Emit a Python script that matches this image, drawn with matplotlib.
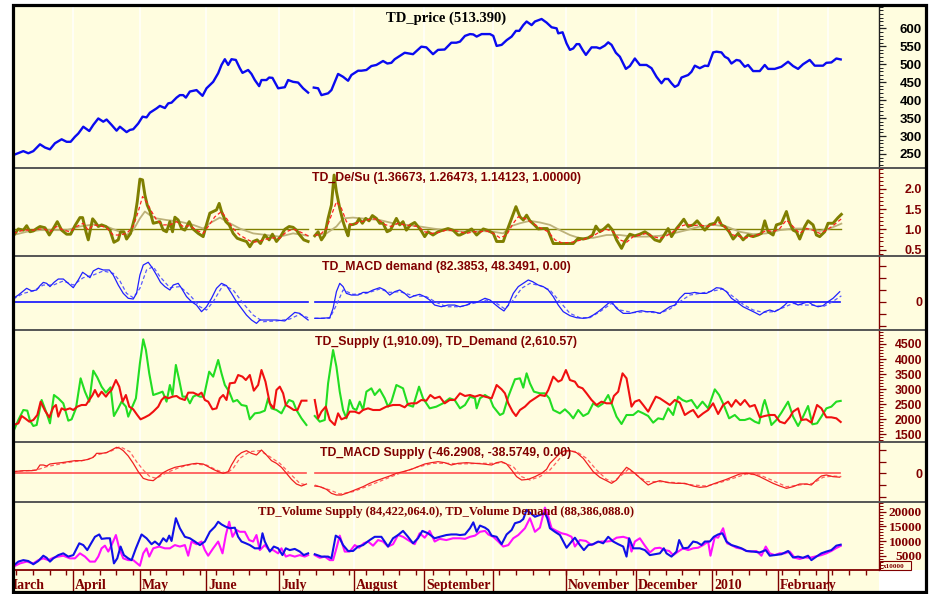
import numpy as np
import matplotlib
matplotlib.use("Agg")
import matplotlib.pyplot as plt
from matplotlib.ticker import MultipleLocator, FixedLocator, FuncFormatter, NullFormatter
from matplotlib.patches import Rectangle
from matplotlib.lines import Line2D
from matplotlib.transforms import offset_copy

nan = float("nan")

# ---------------- data (x = trading-day index, y = value) ----------------
MONTH_STARTS = [-3.0, 18.0, 38.1, 58.0, 79.9, 102.4, 123.4, 144.1, 166.1, 187.1, 209.9, 229.7, 244.7]
MONTH_LABELS = ["March", "April", "May", "June", "July", "August", "September", "",
                "November", "December", "2010", "February", ""]

TITLES = ["TD_price (513.390)",
          "TD_De/Su (1.36673, 1.26473, 1.14123, 1.00000)",
          "TD_MACD demand (82.3853, 48.3491, 0.00)",
          "TD_Supply (1,910.09), TD_Demand (2,610.57)",
          "TD_MACD Supply (-46.2908, -38.5749, 0.00)",
          "TD_Volume Supply (84,422,064.0), TD_Volume Demand (88,386,088.0)"]

PRICE = [(0.1,247),(3.1,258),(4.6,252),(6.1,258),(8.1,277),(9.6,268),(11.1,263),(12.6,280),(14.6,291),(16.1,284),
 (17.3,284),(18.6,298),(19.6,307),(21.1,326),(22.9,314),(24.1,331),(25.6,349),(27.1,340),(28.1,346),(29.6,331),
 (31.1,315),(32.1,326),(34.1,311),(35.1,317),(36.1,319),(37.6,335),(38.9,354),(40.1,352),(41.1,365),(43.1,377),
 (44.1,384),(45.6,378),(46.6,391),(47.6,393),(49.1,407),(50.1,414),(51.1,414),(51.9,407),(53.1,424),(55.1,428),
 (56.9,412),(58.1,433),(60.1,451),(61.6,475),(62.6,498),(63.6,514),(64.6,498),(65.6,514),(66.9,512),(68.1,489),
 (68.9,476),(70.6,484),(71.6,473),(72.6,456),(73.9,439),(74.6,456),(76.1,456),(76.9,463),(77.9,462),(79.6,433),
 (81.6,436),(82.6,456),(84.1,451),(85.6,449),(87.1,433),(88.6,421),(89.5,nan),
 (90.3,435),(91.6,433),(92.6,414),(94.6,419),(95.6,428),(97.6,473),(99.1,465),(100.6,454),(101.6,470),(103.6,482),
 (104.6,482),(106.1,484),(107.6,495),(109.1,498),(111.1,509),(112.4,502),(113.6,504),(114.6,514),(117.6,532),
 (120.1,528),(122.6,549),(124.1,547),(126.1,528),(127.6,540),(129.6,541),(131.6,560),(133.1,560),
 (134.2,563),(135.7,579),(137.2,584),(138.2,583),(139.2,577),(140.7,584),(143.2,584),(144.2,579),(145.2,551),
 (146.7,554),(148.2,567),(149.7,577),(151.0,593),(152.0,593),(153.2,609),(154.2,619),(155.7,609),(156.7,619),
 (158.7,626),(160.2,616),(161.7,603),(163.2,600),(163.7,586),(165.0,589),(166.2,558),(167.2,540),(168.2,544),
 (169.2,556),(170.0,556),(171.0,540),(172.0,526),(173.7,547),(175.2,547),(176.2,544),(177.7,552),(178.7,561),
 (179.7,554),(181.0,532),(182.2,521),(184.0,487),(185.2,495),(186.7,516),(188.2,498),(190.2,498),(191.7,489),
 (193.2,465),(194.7,447),(195.7,459),(196.7,459),(197.7,447),(198.7,437),(199.7,442),(200.7,463),(202.7,470),
 (203.7,479),(204.7,496),(206.2,489),(207.7,496),(208.7,495),(210.2,533),(211.2,535),(212.7,533),(213.7,521),
 (214.7,516),(215.7,502),(217.2,512),(218.2,510),(219.7,493),(220.7,498),(222.2,481),(224.2,481),(225.7,498),
 (226.7,487),(228.7,487),(230.7,493),(232.7,507),(234.2,495),(235.7,487),(237.2,500),(239.2,512),(240.7,496),
 (243.2,496),(244.2,504),(245.7,505),(247.2,516),(248.5,513.39)]

DESU_MAIN = [(0.1,0.84),(1.6,1.01),(3.1,0.98),(4.1,1.09),(5.1,0.94),(6.1,0.96),(7.1,1.02),(8.1,1.07),(9.6,1.04),
 (10.9,0.86),(12.1,1.02),(13.3,1.19),(14.6,0.98),(16.1,0.88),(17.3,0.88),(18.6,1.09),(20.1,1.29),(20.9,1.29),
 (21.9,0.94),(22.6,0.74),(23.9,1.26),(24.6,1.19),(25.6,1.07),(26.6,1.11),(27.9,1.07),(29.1,0.98),(30.3,0.68),
 (31.6,0.74),(32.3,0.94),(33.3,0.94),(34.1,0.76),(35.3,0.90),(36.6,1.31),(37.3,1.68),(38.1,2.24),(38.9,2.22),
 (39.6,1.85),(40.3,1.60),(41.1,1.45),(42.1,1.15),(43.1,1.17),(44.1,1.19),(45.1,0.98),(46.1,0.94),(47.1,1.19),
 (47.9,0.94),(48.6,1.30),(49.6,1.23),(50.6,1.02),(51.6,0.98),(52.9,1.19),(53.9,1.02),(55.6,0.90),(57.1,0.82),
 (58.1,1.12),(59.1,1.40),(60.1,1.44),(61.1,1.48),(61.9,1.64),(62.6,1.44),(63.9,1.19),(64.9,1.11),(66.1,0.90),
 (67.3,0.78),(68.6,0.74),(70.1,0.70),(71.1,0.57),(72.1,0.70),(73.3,0.74),(74.3,0.65),(75.6,0.86),(76.9,0.74),
 (77.9,0.88),(79.1,0.70),(80.3,0.82),(81.6,1.00),(82.9,1.07),(84.1,1.05),(85.1,0.98),(86.1,0.86),(87.3,0.74),
 (88.6,0.70),(89.5,nan),
 (90.6,0.84),(91.6,0.94),(92.6,0.74),(93.6,0.86),(94.6,1.27),(95.6,1.60),(96.4,2.34),(97.1,1.93),(98.1,1.52),
 (99.1,1.19),(100.1,0.94),(100.6,0.84),(101.1,1.11),(102.1,1.12),(103.1,1.15),(103.9,1.26),(104.9,1.15),
 (105.9,1.27),(106.9,1.21),(107.9,1.34),(109.1,1.27),(110.1,1.15),(111.1,1.15),(112.3,0.94),(113.3,0.98),
 (114.1,1.11),(115.1,1.27),(116.1,1.11),(117.1,1.19),(118.1,0.98),(119.3,1.11),(120.6,1.17),(121.6,1.07),
 (122.6,0.96),(123.6,0.82),(124.6,0.94),(126.1,0.86),(127.6,0.94),(129.1,0.98),(130.6,1.02),(132.1,0.98),
 (133.6,0.86),(134.2,0.86),(136.2,0.94),(137.7,1.01),(139.2,0.86),(141.2,1.01),(142.7,0.97),(144.2,0.90),
 (145.2,0.70),(147.2,0.70),(148.2,0.94),(149.7,1.27),(151.0,1.56),(152.2,1.31),(153.2,1.23),(154.2,1.35),
 (155.2,1.21),(156.4,1.12),(157.7,1.01),(159.2,1.02),(160.4,1.02),(162.2,0.65),(164.2,0.65),(166.2,0.65),
 (168.2,0.65),(169.7,0.78),(171.2,0.76),(172.7,0.79),(174.0,0.86),(175.0,1.08),(176.2,0.94),(177.4,1.01),
 (178.7,1.11),(180.0,0.98),(181.2,0.74),(182.7,0.53),(183.7,0.70),(185.2,0.88),(186.7,0.84),(188.2,0.88),
 (189.7,0.94),(191.2,0.86),(192.7,0.74),(194.2,0.70),(195.2,0.82),(196.7,1.02),(197.7,0.82),(199.2,1.02),
 (200.2,1.12),(201.4,1.25),(202.7,1.07),(204.2,1.11),(205.4,1.21),(206.4,1.11),(207.7,0.98),(209.2,1.12),
 (210.7,1.15),(211.7,1.29),(212.7,1.11),(213.7,1.07),(215.0,0.94),(216.2,0.76),(217.7,0.90),(219.2,0.74),
 (220.7,0.86),(222.2,0.82),(223.7,0.86),(224.7,0.90),(225.7,1.21),(226.7,0.94),(228.2,0.86),(229.2,1.11),
 (230.7,1.15),(232.2,1.44),(233.2,1.15),(234.2,0.98),(235.2,0.94),(236.2,0.76),(237.7,1.07),(238.7,1.21),
 (240.2,1.11),(241.2,0.86),(242.2,0.82),(243.7,0.94),(244.7,1.15),(246.2,1.15),(247.7,1.29),(248.7,1.37)]

DESU_FAST = [(0.1,0.90),(3.1,0.98),(6.1,0.98),(9.1,1.02),(11.1,0.94),(13.1,1.07),(15.1,0.98),(17.1,0.94),
 (19.1,1.07),(21.1,1.15),(22.6,0.98),(24.1,1.11),(26.1,1.09),(28.1,1.04),(30.1,0.86),(32.1,0.86),(34.1,0.90),
 (36.1,1.07),(37.6,1.44),(38.9,1.81),(40.1,1.68),(41.6,1.44),(43.1,1.23),(45.1,1.11),(47.1,1.11),(49.1,1.19),
 (51.1,1.07),(53.1,1.09),(55.1,0.98),(57.1,0.90),(58.6,1.07),(60.6,1.31),(62.6,1.44),(64.1,1.27),(66.1,1.02),
 (68.1,0.86),(70.1,0.76),(72.1,0.68),(74.1,0.71),(76.1,0.76),(78.1,0.79),(80.1,0.78),(82.1,0.94),(84.1,1.01),
 (86.1,0.94),(88.6,0.84),(89.5,nan),
 (90.6,0.86),(92.1,0.86),(94.1,1.02),(95.6,1.35),(97.1,1.68),(98.6,1.52),(100.1,1.19),(101.6,1.11),(103.6,1.17),
 (105.6,1.21),(107.6,1.26),(109.6,1.25),(111.6,1.12),(113.6,1.07),(115.6,1.15),(117.6,1.11),(119.6,1.09),
 (121.6,1.07),(123.6,0.94),(125.6,0.90),(127.6,0.92),(130.1,0.98),(132.1,0.98),(136.2,0.90),(138.2,0.94),
 (140.2,0.94),(142.2,0.96),(144.2,0.90),(146.2,0.79),(148.2,0.86),(150.2,1.15),(151.7,1.31),(153.7,1.27),
 (155.7,1.17),(158.2,1.04),(160.7,0.94),(162.7,0.74),(164.7,0.67),(167.2,0.67),(169.2,0.71),(171.7,0.76),
 (174.2,0.84),(176.2,0.94),(178.2,1.00),(180.2,0.94),(182.2,0.74),(184.2,0.68),(186.2,0.82),(188.2,0.86),
 (190.2,0.90),(192.2,0.82),(194.2,0.78),(196.2,0.84),(198.2,0.94),(200.2,1.07),(202.2,1.12),(204.2,1.09),
 (206.2,1.11),(208.2,1.07),(210.2,1.11),(212.2,1.17),(214.2,1.02),(216.2,0.86),(218.2,0.82),(220.2,0.79),
 (222.2,0.84),(224.2,0.88),(226.2,0.98),(228.2,0.94),(230.2,1.02),(232.2,1.23),(234.2,1.07),(236.2,0.90),
 (238.2,1.02),(240.2,0.98),(242.2,0.90),(244.2,0.98),(246.2,1.09),(248.7,1.26)]

DESU_SLOW = [(0.1,0.86),(4.1,0.94),(8.1,0.98),(12.1,0.98),(16.1,0.98),(20.1,1.07),(24.1,1.12),(28.1,1.07),
 (32.1,0.94),(34.1,0.86),(36.1,0.98),(38.1,1.27),(39.6,1.44),(41.1,1.35),(43.1,1.27),(46.1,1.23),(50.1,1.19),
 (54.1,1.11),(57.1,1.02),(59.1,1.15),(62.1,1.29),(65.1,1.15),(68.1,1.02),(72.1,0.90),(76.1,0.86),(80.1,0.82),
 (84.1,0.90),(88.6,0.84),(89.5,nan),
 (90.6,0.86),(94.1,0.90),(97.1,1.07),(99.1,1.27),(102.1,1.29),(106.1,1.26),(110.1,1.23),(114.1,1.15),
 (118.1,1.11),(122.1,1.07),(126.1,1.02),(130.1,0.98),(136.2,0.94),(140.2,0.96),(144.2,0.94),(147.2,0.90),
 (149.2,1.07),(152.2,1.15),(155.2,1.21),(158.2,1.17),(161.2,1.11),(164.2,0.98),(167.2,0.86),(170.2,0.78),
 (174.2,0.79),(178.2,0.86),(182.2,0.86),(186.2,0.82),(190.2,0.82),(194.2,0.84),(198.2,0.90),(202.2,0.98),
 (206.2,1.07),(210.2,1.11),(214.2,1.07),(218.2,0.94),(222.2,0.88),(226.2,0.90),(230.2,0.98),(234.2,1.02),
 (238.2,1.02),(242.2,0.96),(245.2,1.02),(248.7,1.14)]

MACD_D = [(0.1,28),(1.6,55),(3.1,89),(4.1,111),(5.6,89),(7.1,97),(8.1,133),(9.1,160),(10.1,152),(11.1,125),
 (12.3,160),(13.6,188),(15.1,188),(16.6,152),(18.1,116),(19.6,180),(20.9,244),(22.1,221),(23.1,199),(24.1,255),
 (25.6,277),(27.1,263),(28.9,263),(30.1,221),(31.6,138),(33.1,69),(34.6,28),(36.1,22),(37.1,69),(38.1,221),
 (39.1,304),(40.6,327),(41.9,277),(43.1,221),(44.3,160),(45.6,125),(47.1,97),(48.1,138),(49.6,152),(50.6,111),
 (52.1,42),(53.6,0),(55.1,-28),(56.6,-83),(58.1,-42),(59.6,28),(61.1,111),(62.6,152),(64.1,133),(65.6,69),
 (67.1,0),(68.6,-55),(70.1,-111),(71.6,-152),(73.1,-180),(74.1,-152),(76.1,-152),(79.1,-152),(81.6,-160),
 (83.1,-125),(84.6,-89),(86.1,-97),(87.3,-125),(88.6,-152),(89.5,nan),
 (90.6,-138),(92.6,-138),(95.1,-133),(96.1,-55),(97.1,83),(98.1,152),(99.1,125),(100.1,69),(101.6,55),
 (103.6,55),(105.1,77),(106.6,77),(108.1,97),(110.1,116),(111.6,97),(113.1,55),(114.6,83),(116.1,97),
 (117.6,69),(119.1,33),(120.6,50),(122.1,61),(123.6,42),(125.1,14),(126.6,-28),(128.6,-42),(130.6,-28),
 (132.6,-28),(134.2,-42),(136.2,-28),(137.7,-6),(139.2,-6),(140.7,14),(141.7,28),(143.2,14),(144.7,-22),
 (146.2,-55),(147.4,-77),(148.7,-28),(150.2,69),(151.7,125),(153.2,152),(154.7,180),(156.0,166),(157.7,138),
 (159.2,125),(160.7,97),(162.2,42),(163.7,-28),(165.2,-83),(167.2,-116),(169.2,-133),(171.2,-138),(172.7,-133),
 (174.2,-111),(175.7,-83),(177.2,-50),(178.7,-14),(179.7,0),(181.2,-55),(183.2,-97),(185.2,-97),(187.2,-83),
 (188.7,-75),(190.2,-83),(192.2,-83),(194.2,-97),(195.7,-69),(197.2,-42),(198.7,-28),(200.2,28),(201.7,69),
 (203.2,69),(204.7,77),(206.2,69),(208.2,69),(209.7,89),(211.2,116),(212.7,111),(214.2,83),(215.7,28),
 (217.2,0),(219.2,-42),(221.2,-69),(222.7,-89),(224.2,-111),(225.7,-83),(227.2,-69),(228.7,-83),(230.2,-61),
 (231.7,-28),(232.7,0),(234.2,-6),(235.7,-28),(237.2,-14),(238.7,0),(240.2,-28),(241.7,-42),(243.2,-33),
 (244.7,0),(246.2,28),(248.2,82.39)]

MACD_D_SIG = [(0.1,22),(3.1,69),(6.1,89),(9.1,138),(12.1,138),(15.1,172),(18.1,138),(21.1,199),(24.1,221),
 (27.1,255),(30.1,235),(32.1,172),(34.1,69),(36.1,33),(38.1,111),(40.1,263),(42.1,291),(44.1,208),(47.1,116),
 (50.1,125),(53.1,55),(56.1,-42),(58.1,-69),(60.1,0),(63.1,138),(66.1,97),(69.1,-14),(72.1,-111),(75.1,-166),
 (79.1,-160),(83.1,-144),(86.1,-105),(88.6,-133),(89.5,nan),
 (90.6,-138),(95.1,-138),(97.1,-28),(99.1,97),(102.1,61),(106.1,69),(110.1,105),(113.1,77),(116.1,83),
 (120.1,50),(124.1,42),(127.1,-6),(130.1,-42),(134.2,-42),(138.2,-14),(142.2,14),(145.2,-14),(147.7,-61),
 (150.2,14),(152.7,111),(155.2,152),(158.2,133),(161.2,97),(164.2,0),(167.2,-97),(170.2,-133),(173.2,-133),
 (176.2,-83),(179.7,-14),(182.2,-69),(186.2,-91),(190.2,-83),(194.2,-97),(197.2,-61),(200.2,0),(203.2,55),
 (206.2,69),(210.2,89),(213.2,105),(216.2,42),(219.2,-22),(222.2,-69),(225.2,-89),(228.2,-83),(231.2,-50),
 (234.2,-14),(237.2,-28),(240.2,-28),(243.2,-42),(245.7,-6),(248.7,48.35)]

SUPPLY = [(0.1,1810),(1.6,1865),(2.6,2109),(3.6,2031),(4.9,1921),(6.1,1976),(7.3,2142),(8.3,2585),(9.6,2286),
 (10.9,2065),(12.1,2397),(12.9,2474),(13.6,2087),(14.6,2363),(15.6,2308),(17.1,2363),(18.1,2308),(19.3,2419),
 (20.6,2474),(21.9,2474),(22.9,2640),(23.9,2806),(24.6,2972),(25.6,2751),(26.6,2917),(27.9,2751),(28.6,2862),
 (29.6,2972),(30.9,3304),(31.9,3083),(32.9,2585),(33.9,2806),(34.9,2419),(36.1,2330),(37.3,2142),(38.3,1998),
 (39.6,2065),(40.9,2142),(42.1,2253),(43.6,2419),(44.6,2640),(45.6,2751),(46.6,2696),(47.9,2751),(49.1,2773),
 (50.1,2696),(51.6,2640),(52.6,2884),(54.1,2884),(55.6,2806),(56.6,2884),(57.6,2640),(58.6,2585),(59.9,2330),
 (61.1,2363),(62.1,2696),(63.1,2806),(64.1,2640),(65.1,3194),(66.6,3216),(67.6,3470),(68.9,3415),(69.9,3304),
 (71.1,3470),(72.3,2950),(73.6,3138),(74.6,3636),(75.8,3249),(77.1,2530),(78.3,2363),(79.1,2972),(80.1,3083),
 (81.1,2862),(81.9,2474),(83.1,2397),(84.3,2308),(85.4,2308),(86.6,2618),(88.1,2618),(89.5,nan),
 (90.6,2640),(91.6,2031),(92.6,2253),(93.9,2419),(95.1,1976),(96.6,1810),(97.6,2197),(98.6,1998),(100.1,2065),
 (101.1,2253),(102.6,2253),(103.9,2197),(105.1,2308),(106.6,2363),(108.1,2308),(110.1,2308),(112.1,2419),
 (114.1,2474),(116.1,2474),(117.6,2397),(118.6,2507),(119.6,2530),(121.1,2530),(122.6,2640),(124.1,2618),
 (125.3,2806),(126.6,2696),(128.1,2751),(129.6,2530),(131.1,2640),(132.6,2640),(134.2,2862),(135.7,2773),
 (137.2,2806),(138.7,2751),(140.2,2806),(141.7,2751),(143.7,2696),(145.2,3138),(146.7,2994),(147.7,2862),
 (148.7,2530),(150.0,2253),(151.0,2109),(152.2,2308),(153.7,2419),(155.2,2585),(156.7,2696),(158.2,2806),
 (159.7,2773),(160.7,2972),(162.2,3415),(163.7,3249),(164.7,3304),(166.0,3636),(167.2,3304),(168.7,3249),
 (169.7,3083),(171.0,3028),(172.2,2862),(173.7,2640),(175.2,2474),(176.7,2585),(178.2,2530),(179.7,2530),
 (180.4,2773),(181.7,2917),(183.0,3526),(184.2,3360),(185.7,2419),(186.7,2585),(188.0,2640),(189.2,2474),
 (190.7,2253),(191.7,2474),(193.0,2751),(194.2,2696),(195.7,2585),(197.2,2474),(198.7,2640),(200.2,2552),
 (201.7,2142),(203.2,2253),(204.2,2308),(205.7,2065),(207.2,2197),(208.7,2308),(210.2,2530),(211.7,2175),
 (213.2,2474),(214.7,2585),(215.7,2419),(217.0,2640),(218.4,2474),(219.7,2640),(221.2,2419),(222.7,2474),
 (224.2,2065),(225.7,2109),(227.2,2142),(228.7,2142),(230.2,1921),(231.7,1865),(233.2,2065),(234.2,2253),
 (235.7,2363),(236.7,1976),(238.2,1998),(239.7,1887),(241.4,2474),(242.7,2363),(244.2,2065),(245.7,2065),
 (247.2,2031),(248.5,1910.09)]

DEMAND = [(0.1,1589),(1.6,1976),(3.1,2308),(4.3,2286),(5.1,1954),(6.1,1777),(7.1,1810),(8.6,2640),(10.1,2197),
 (11.1,1865),(12.3,2806),(13.6,2696),(15.1,2530),(16.6,1954),(17.6,1998),(18.9,2363),(20.3,3360),(21.6,2917),
 (22.9,2585),(24.1,3614),(25.3,3393),(26.6,3083),(27.9,2884),(29.3,3061),(30.3,2109),(31.6,2363),(32.6,2585),
 (33.9,2419),(34.6,2087),(35.6,2363),(36.9,2696),(38.1,3858),(39.1,4655),(39.9,4301),(40.9,3526),(42.1,2806),
 (43.6,2862),(44.9,2917),(46.1,2585),(47.1,3138),(47.9,2806),(48.9,3803),(49.9,3304),(50.9,2751),(52.1,2751),
 (53.1,2530),(54.1,2751),(55.1,2806),(56.1,2751),(57.3,2751),(58.9,3581),(60.1,3415),(61.6,3969),(62.6,3526),
 (63.6,3138),(64.9,2917),(66.1,2585),(67.3,2640),(68.6,2474),(70.1,2441),(71.1,1998),(72.6,2197),(74.1,2220),
 (75.6,2286),(76.6,2696),(77.6,2363),(79.1,2308),(80.6,2197),(81.9,2474),(82.9,2640),(84.1,2585),(85.1,2308),
 (86.6,2031),(88.1,1810),(89.5,nan),
 (90.6,2109),(92.1,1921),(93.6,1976),(94.6,3194),(96.1,4301),(97.1,3747),(98.1,2917),(99.1,2308),(100.1,2031),
 (101.1,2640),(102.1,2363),(103.1,2308),(104.1,2585),(105.1,2308),(106.1,2917),(107.6,3028),(108.6,2806),
 (110.1,2994),(111.6,2696),(112.6,2419),(113.6,2585),(115.1,3138),(116.1,3083),(117.1,3028),(118.6,2474),
 (120.1,2419),(121.9,3083),(123.1,2696),(125.1,2363),(127.1,2419),(129.1,2530),(131.1,2696),(132.6,2640),
 (134.2,2363),(135.7,2474),(137.2,2751),(138.7,2696),(139.2,2363),(140.2,2696),(141.7,2806),(143.2,2696),
 (144.2,2419),(146.2,2142),(147.2,2197),(148.7,2751),(150.7,3327),(152.2,3360),(153.2,3050),(154.2,3526),
 (155.2,3194),(156.4,2917),(158.2,2862),(159.7,2862),(161.0,2696),(162.2,2308),(164.2,2197),(165.7,2330),
 (167.0,2197),(168.2,2031),(169.7,2308),(171.2,2109),(172.7,2197),(174.2,2530),(175.7,2419),(177.2,2530),
 (178.7,2806),(179.7,2530),(181.2,2087),(182.7,1843),(184.2,2142),(186.2,2142),(187.7,2275),(189.2,2197),
 (190.7,2109),(192.2,1887),(193.7,2031),(195.2,1998),(196.7,2363),(198.2,2142),(199.7,2751),(201.0,2640),
 (202.2,2585),(203.7,2640),(205.4,2363),(207.0,2585),(208.7,2363),(210.7,2994),(212.0,2806),(213.4,2474),
 (215.0,2031),(216.7,2142),(218.2,1976),(219.7,1976),(221.2,2031),(222.7,1921),(224.0,1865),(225.2,2474),
 (225.7,2640),(226.7,2253),(227.7,1810),(229.2,1976),(230.7,2220),(232.7,2585),(234.2,2087),(235.7,1777),
 (237.2,2087),(238.7,2441),(240.0,1832),(241.4,1865),(242.7,2087),(244.2,2363),(245.7,2419),(247.2,2585),
 (248.5,2610.57)]

MACD_S = [(0.1,20),(3.1,32),(5.6,32),(7.1,40),(8.1,100),(9.1,100),(10.1,88),(11.1,112),(12.6,120),(14.6,128),
 (16.6,140),(18.6,152),(20.6,152),(22.6,168),(24.1,192),(25.1,240),(26.6,240),(28.1,248),(29.6,280),(31.1,312),
 (32.1,300),(33.1,272),(34.6,208),(36.1,120),(37.6,20),(39.1,-60),(40.6,-80),(42.1,-88),(43.6,-40),(45.1,8),
 (46.6,40),(48.6,72),(50.6,88),(52.1,100),(53.6,112),(55.1,120),(57.1,112),(58.6,80),(60.1,48),(61.6,20),
 (63.1,0),(64.6,20),(65.6,100),(67.1,200),(68.6,248),(70.1,272),(71.6,240),(73.1,220),(74.6,280),(76.1,220),
 (77.6,152),(79.1,120),(80.6,72),(82.1,0),(83.6,-72),(85.1,-128),(86.6,-152),(88.1,-128),(89.5,nan),
 (90.6,-152),(92.1,-160),(94.1,-192),(95.6,-240),(97.1,-260),(98.6,-260),(100.6,-232),(102.6,-200),
 (105.1,-160),(107.1,-120),(109.1,-88),(111.1,-60),(113.1,-32),(115.1,0),(117.1,20),(119.6,48),(121.6,80),
 (123.6,112),(125.6,128),(127.6,140),(129.6,128),(131.6,100),(133.6,120),(136.2,128),(138.7,120),(141.2,112),
 (143.7,100),(145.2,128),(146.7,140),(148.2,112),(149.7,40),(151.2,-40),(152.7,-80),(154.7,-72),(156.7,-40),
 (158.7,0),(160.2,48),(161.2,120),(162.7,180),(164.2,240),(165.7,272),(167.2,272),(169.2,248),(171.2,180),
 (172.7,100),(174.2,20),(176.2,-48),(178.2,-88),(179.7,-120),(181.2,-80),(182.7,0),(184.2,72),(185.2,48),
 (186.7,0),(188.7,-72),(190.7,-140),(192.2,-112),(194.2,-88),(196.7,-112),(199.2,-120),(201.7,-120),
 (204.2,-152),(206.2,-168),(208.2,-160),(210.2,-128),(212.2,-100),(214.2,-72),(216.2,-40),(218.2,-8),
 (220.2,0),(222.2,-8),(224.2,-40),(226.2,-80),(228.2,-120),(230.2,-152),(232.2,-180),(234.2,-160),
 (236.2,-128),(238.2,-128),(239.7,-140),(241.2,-80),(242.7,-32),(244.2,-20),(246.2,-40),(248.2,-46.29)]

MACD_S_SIG = [(0.1,20),(7.1,40),(10.1,80),(16.1,128),(22.1,160),(25.1,220),(29.1,260),(32.1,320),(35.1,260),
 (37.1,140),(39.1,40),(41.1,-40),(43.1,-60),(46.1,8),(50.1,72),(54.1,112),(58.1,100),(61.1,40),(64.1,0),
 (66.1,60),(68.1,180),(71.1,260),(74.1,272),(77.1,200),(80.1,120),(83.1,0),(86.1,-120),(88.1,-140),(89.5,nan),
 (90.6,-140),(95.1,-200),(98.1,-248),(102.1,-220),(106.1,-160),(111.1,-80),(116.1,0),(121.1,72),(126.1,120),
 (131.1,120),(134.2,112),(140.2,120),(144.2,120),(147.2,128),(150.2,80),(152.7,-40),(155.2,-80),(158.2,-40),
 (161.2,40),(164.2,180),(166.7,272),(169.2,260),(172.2,180),(175.2,40),(178.2,-72),(180.2,-100),(182.2,-40),
 (184.7,48),(187.2,-20),(190.2,-100),(194.2,-100),(199.2,-112),(204.2,-140),(208.2,-152),(212.2,-112),
 (216.2,-60),(220.2,-8),(224.2,-20),(228.2,-88),(232.2,-160),(236.2,-140),(240.2,-120),(243.2,-48),
 (246.2,-32),(248.7,-38.57)]

VOL_SUPPLY = [(0.1,1400),(2.1,2500),(4.1,3100),(6.1,2500),(7.6,3600),(9.1,4200),(10.6,3600),(12.1,4400),
 (13.6,4800),(15.1,5100),(17.1,4200),(18.6,4200),(20.1,5900),(21.6,4800),(23.1,3100),(24.6,3100),(25.6,4800),
 (26.6,7600),(27.6,8500),(28.6,6500),(29.6,8700),(30.9,12100),(31.9,7600),(33.1,4200),(34.6,3600),(36.1,3600),
 (38.1,1700),(39.1,5900),(40.1,7600),(40.9,4800),(42.1,7600),(43.9,8200),(45.6,7600),(47.1,7600),(48.6,8700),
 (50.1,8200),(51.6,8700),(52.6,5100),(53.6,9900),(55.1,9000),(56.6,9900),(57.6,7000),(58.6,5100),(60.1,7600),
 (61.6,9900),(62.9,5900),(63.9,12100),(64.9,16600),(65.9,11500),(67.1,13800),(68.1,13200),(69.6,13200),
 (70.9,10400),(72.1,9900),(73.1,12100),(74.1,7000),(75.6,8700),(76.9,7000),(78.1,7000),(79.6,5900),(80.6,7600),
 (81.9,4800),(83.1,5300),(84.6,4800),(86.1,5300),(87.6,4800),(88.6,5300),(89.5,nan),
 (90.6,5300),(92.1,4400),(93.6,4800),(95.1,3600),(96.1,3600),(97.1,7600),(98.1,11900),(99.6,6500),(101.1,6500),
 (102.6,8700),(103.9,7800),(105.3,9300),(106.6,9900),(108.1,8500),(109.6,10400),(111.1,9900),(112.6,8200),
 (114.1,9000),(115.6,12100),(117.1,11500),(118.6,10400),(120.6,9000),(122.1,12700),(123.6,11200),(125.1,13500),
 (126.6,9900),(128.1,10800),(130.1,10400),(132.1,11000),(134.2,11000),(135.7,10800),(137.2,11500),(138.7,11900),
 (140.2,13200),(141.7,13500),(142.7,12300),(144.2,11500),(145.7,9900),(147.2,8200),(148.7,8700),(150.2,11000),
 (151.7,12100),(153.7,14400),(155.2,17800),(156.7,13200),(158.2,14600),(159.7,21400),(160.7,18300),
 (161.7,14400),(163.2,13500),(164.7,12700),(166.2,12300),(167.7,11500),(168.7,8200),(170.2,10400),(172.0,10100),
 (173.7,8700),(175.2,9600),(176.7,9900),(178.2,9900),(179.7,10100),(181.2,11200),(183.2,11500),(184.7,11000),
 (185.7,6500),(186.7,9900),(188.2,11000),(189.7,8500),(191.2,6200),(192.7,7600),(194.2,7800),(195.7,7000),
 (197.0,6700),(198.2,5300),(199.7,6500),(201.2,7600),(202.7,7000),(204.2,7600),(205.7,7800),(207.2,8700),
 (208.7,9900),(209.4,5100),(210.7,11500),(211.7,11200),(213.2,14400),(214.4,9300),(215.7,8700),(217.2,7800),
 (219.0,7400),(220.2,6700),(221.7,6500),(223.2,6700),(224.7,5100),(226.0,8200),(227.2,5900),(228.7,5300),
 (230.2,5900),(231.7,5900),(233.2,6500),(234.7,4400),(236.2,4000),(237.7,4500),(239.2,4400),(240.7,4800),
 (242.7,5300),(244.2,5900),(245.7,6700),(247.0,7600),(248.5,8442)]

VOL_DEMAND = [(0.1,1700),(1.6,3100),(3.1,3600),(4.6,3300),(6.1,2200),(7.6,3300),(9.1,5100),(10.1,4400),
 (11.1,3100),(12.1,4200),(13.6,5300),(15.1,5900),(16.6,4800),(18.1,5300),(19.9,9300),(21.1,8700),(22.3,7000),
 (23.3,9000),(24.6,11500),(25.9,12300),(26.6,10800),(28.1,11000),(29.1,11000),(30.3,2500),(31.3,4200),
 (32.3,8200),(33.3,5300),(34.6,4200),(35.6,3600),(36.9,7600),(38.6,12300),(40.1,11000),(41.6,9000),(42.6,9900),
 (43.9,8700),(45.1,11000),(46.1,9900),(46.9,11900),(47.6,10100),(48.9,17800),(50.1,14400),(51.6,11500),
 (53.1,11000),(54.6,9900),(56.1,8700),(57.6,9900),(59.1,13200),(60.6,14900),(61.6,16600),(62.6,15700),
 (63.9,14900),(65.1,14400),(66.6,14600),(67.6,11500),(68.6,9900),(69.9,9300),(71.1,8700),(72.6,7600),
 (74.1,7600),(74.9,12700),(75.6,9900),(77.1,6500),(78.3,8200),(79.6,7600),(80.9,5300),(81.9,7600),(83.1,7000),
 (84.6,7400),(86.1,6500),(87.3,5300),(88.6,5900),(89.5,nan),
 (90.6,5600),(92.6,4800),(94.6,4800),(95.6,4200),(96.9,11900),(98.1,11000),(99.1,8700),(100.6,6700),
 (102.1,6700),(103.6,8200),(105.1,8700),(107.1,10400),(108.6,11500),(110.6,11500),(112.6,8200),(114.1,11000),
 (115.6,12100),(117.1,13500),(118.6,11500),(120.1,9300),(121.6,11000),(122.9,13500),(124.6,12700),
 (126.6,11000),(128.1,11500),(130.1,12100),(131.6,12300),(133.1,12300),(134.2,12100),(135.7,12300),
 (137.2,14400),(138.2,16400),(139.2,13200),(140.2,15300),(141.7,14600),(142.7,13800),(143.7,11900),
 (145.2,11500),(146.7,9000),(148.2,12300),(149.7,13800),(150.7,16100),(152.2,16600),(153.2,17500),
 (154.2,20600),(155.4,19500),(156.7,18300),(158.2,18900),(159.7,19500),(160.4,17800),(161.2,14400),
 (162.7,13200),(164.2,12100),(166.2,7800),(167.7,9900),(168.7,11200),(170.2,8700),(171.4,7000),(172.7,8700),
 (174.2,9000),(175.7,9900),(177.2,9300),(178.7,11500),(180.2,9900),(181.7,9000),(183.2,8200),(184.2,4800),
 (185.0,11000),(186.2,7600),(188.2,7600),(189.7,7000),(191.2,5300),(192.7,5600),(194.2,5900),(195.4,7600),
 (196.2,5900),(197.7,4800),(199.2,6500),(200.0,10400),(201.2,7600),(202.7,7800),(204.2,9900),(205.4,9600),
 (206.7,8700),(207.7,9900),(209.2,9900),(210.4,11500),(211.7,12300),(213.0,12700),(214.2,9900),(215.7,8700),
 (217.2,8200),(218.7,7600),(220.2,6700),(222.2,6500),(224.2,6200),(226.0,7000),(227.2,5100),(228.7,5300),
 (230.7,5600),(232.7,6700),(234.2,4500),(235.7,4800),(237.2,4400),(238.7,5100),(239.7,3600),(241.2,4800),
 (242.7,5900),(244.2,6500),(245.7,7000),(247.2,8500),(248.5,8839)]

# ---------------- helpers ----------------
def xy(pairs):
    a = np.array(pairs, dtype=float)
    return a[:, 0], a[:, 1]

def level(pairs, v):
    x, y = xy(pairs)
    return x, np.where(np.isnan(y), np.nan, v)

W, H = 932, 594
CREAM = "#FFFDDF"
DARKRED = "#800000"
SANS = "Liberation Sans"
SERIF = "Liberation Serif"
X0, X1 = 13, 879
PANEL_Y = [5, 168, 256, 330, 442, 502, 570]
XMAX = 260

fig = plt.figure(figsize=(W / 100, H / 100), dpi=100)
fig.patch.set_facecolor("white")

def frac(x0, y0, x1, y1):
    return [x0 / W, 1 - y1 / H, (x1 - x0) / W, (y1 - y0) / H]

r = frac(13, 5, 925, 570)
fig.add_artist(Rectangle((r[0], r[1]), r[2], r[3], transform=fig.transFigure,
                         facecolor=CREAM, edgecolor="none", zorder=-5))
r = frac(13, 570, X1, 592)
fig.add_artist(Rectangle((r[0], r[1]), r[2], r[3], transform=fig.transFigure,
                         facecolor=CREAM, edgecolor="none", zorder=-5))

axes = []
for i in range(6):
    ax = fig.add_axes(frac(X0, PANEL_Y[i], X1, PANEL_Y[i + 1]))
    ax.set_facecolor("none")
    ax.set_xlim(0, XMAX)
    for s in ("left", "top", "bottom"):
        ax.spines[s].set_visible(False)
    ax.spines["right"].set_color(DARKRED if i > 0 else "#202020")
    ax.spines["right"].set_linewidth(1.0)
    ax.set_xticks([])
    for m in MONTH_STARTS[1:]:
        ax.axvline(m, color="#FFFFF6", lw=1.4, zorder=0.5)
    axes.append(ax)

ax1, ax2, ax3, ax4, ax5, ax6 = axes

# --- panel 1: price
ax1.set_ylim(211, 665)
ax1.plot(*xy(PRICE), color="#0A0AF0", lw=1.7, zorder=3)

# --- panel 2: De/Su
ax2.set_ylim(0.342, 2.514)
ax2.plot(*level(DESU_MAIN, 1.0), color="#808000", lw=1.0, zorder=2)
ax2.plot(*xy(DESU_SLOW), color="#BDB27A", lw=1.3, zorder=3)
ax2.plot(*xy(DESU_MAIN), color="#7F7F00", lw=2.1, zorder=4)
ax2.plot(*xy(DESU_FAST), color="#FF2020", lw=0.9, dashes=(3, 2), zorder=5)

# --- panel 3: MACD demand
ax3.set_ylim(-235, 379)
ax3.plot(*level(MACD_D, 0.0), color="#1010FF", lw=1.2, zorder=2)
ax3.plot(*xy(MACD_D_SIG), color="#5A5AFF", lw=0.9, dashes=(3, 2), zorder=3)
ax3.plot(*xy(MACD_D), color="#2020FF", lw=0.9, zorder=4)

# --- panel 4: supply / demand
ax4.set_ylim(1245, 4965)
ax4.plot(*xy(DEMAND), color="#22DD22", lw=1.5, zorder=3)
ax4.plot(*xy(SUPPLY), color="#F01010", lw=1.5, zorder=4)

# --- panel 5: MACD supply
ax5.set_ylim(-344, 376)
ax5.plot(*level(MACD_S, 0.0), color="#FF5050", lw=1.2, zorder=2)
ax5.plot(*xy(MACD_S_SIG), color="#FF6060", lw=0.9, dashes=(3, 2), zorder=3)
ax5.plot(*xy(MACD_S), color="#F02020", lw=0.9, zorder=4)

# --- panel 6: volume
ax6.set_ylim(258, 23290)
ax6.plot(*xy(VOL_SUPPLY), color="#FF10FF", lw=1.5, zorder=3)
ax6.plot(*xy(VOL_DEMAND), color="#1010E8", lw=1.5, zorder=4)

# --- right y axes
def right_axis(ax, color, majors, minor, fmt, family, size, labcolor):
    ax.yaxis.tick_right()
    ax.yaxis.set_major_locator(FixedLocator(majors))
    if minor:
        ax.yaxis.set_minor_locator(MultipleLocator(minor))
    ax.yaxis.set_major_formatter(FuncFormatter(fmt))
    ax.tick_params(axis="y", which="major", direction="out", length=5, width=0.9,
                   color=color, labelcolor=labcolor, pad=26)
    ax.tick_params(axis="y", which="minor", direction="out", length=3, width=0.7, color=color)
    for t in ax.get_yticklabels():
        t.set_horizontalalignment("right")
        t.set_fontfamily(family)
        t.set_fontweight("bold")
        t.set_fontsize(size)

right_axis(ax1, "#202020", list(range(250, 601, 50)), 10, lambda v, p: f"{v:.0f}", SANS, 9.5, "black")
right_axis(ax2, DARKRED, [0.5, 1.0, 1.5, 2.0], 0.1, lambda v, p: f"{v:.1f}", SANS, 9, DARKRED)
right_axis(ax3, DARKRED, list(range(-200, 301, 100)), None,
           lambda v, p: "0" if abs(v) < 1e-9 else "", SANS, 9, DARKRED)
right_axis(ax4, DARKRED, list(range(1500, 4501, 500)), 100, lambda v, p: f"{v:.0f}", SANS, 8.8, DARKRED)
right_axis(ax5, DARKRED, list(range(-280, 281, 140)), None,
           lambda v, p: "0" if abs(v) < 1e-9 else "", SANS, 9, DARKRED)
right_axis(ax6, DARKRED, [5000, 10000, 15000, 20000], 1000, lambda v, p: f"{v:.0f}", SERIF, 9.6, DARKRED)

# --- panel titles
title_off = [13, 10, 11, 12, 11, 10]
for i, ax in enumerate(axes):
    h = PANEL_Y[i + 1] - PANEL_Y[i]
    if i == 0:
        kw = dict(family=SERIF, size=10.5, color="black")
    elif i == 5:
        kw = dict(family=SERIF, size=9, color=DARKRED)
    else:
        kw = dict(family=SANS, size=8.8, color=DARKRED)
    ax.text(0.5, 1 - title_off[i] / h, TITLES[i], transform=ax.transAxes, ha="center",
            va="center", weight="bold", zorder=10, **kw)

# --- separators between panels (span the label column too)
for y in PANEL_Y[1:-1]:
    fig.add_artist(Line2D([13 / W, 925 / W], [1 - y / H, 1 - y / H], transform=fig.transFigure,
                          color="#555555", lw=1.4, zorder=6))

# --- x axis row
axx = fig.add_axes(frac(X0, 570, X1, 591))
axx.set_facecolor("none")
axx.set_xlim(0, XMAX)
axx.set_ylim(0, 1)
for s in ("left", "right", "bottom"):
    axx.spines[s].set_visible(False)
axx.spines["top"].set_color(DARKRED)
axx.spines["top"].set_linewidth(1.3)
axx.set_yticks([])
axx.xaxis.set_ticks_position("top")
axx.xaxis.set_major_locator(FixedLocator(MONTH_STARTS))
axx.xaxis.set_minor_locator(FixedLocator(np.arange(1, XMAX, 5)))
axx.xaxis.set_major_formatter(NullFormatter())
axx.tick_params(axis="x", which="major", direction="in", length=16, width=1.0, color=DARKRED)
axx.tick_params(axis="x", which="minor", direction="in", length=3.8, width=1.0, color=DARKRED)
lab_tr = offset_copy(axx.transData, fig=fig, x=2, y=0, units="dots")
for m, lab in zip(MONTH_STARTS, MONTH_LABELS):
    if lab:
        axx.text(m, 0.1, lab, transform=lab_tr, ha="left", va="baseline", family=SERIF,
                 weight="bold", size=10, color=DARKRED, clip_on=True)

# --- "x10000" unit box
r = frac(880, 561, 911, 570)
fig.add_artist(Rectangle((r[0], r[1]), r[2], r[3], transform=fig.transFigure,
                         facecolor="none", edgecolor=DARKRED, lw=0.8, zorder=7))
fig.text(882.5 / W, 1 - 566 / H, "x10000", ha="left", va="center", family=SERIF,
         weight="bold", size=5.2, color=DARKRED, zorder=8)

# --- outer black frame
r = frac(12.5, 5, 926, 592)
fig.add_artist(Rectangle((r[0], r[1]), r[2], r[3], transform=fig.transFigure,
                         facecolor="none", edgecolor="black", lw=2.3, zorder=20))

fig.savefig("out.png", dpi=100, facecolor="white")
